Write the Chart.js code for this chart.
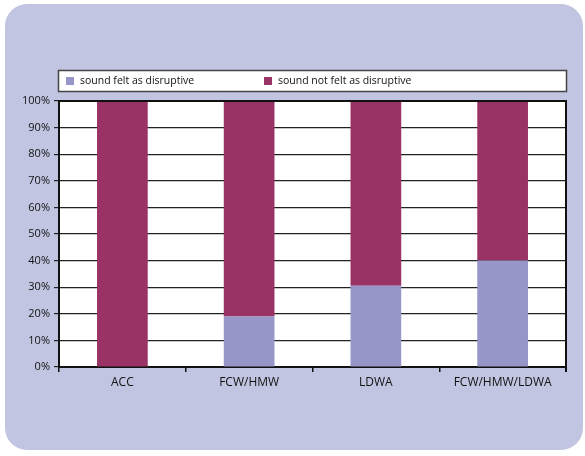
<!DOCTYPE html>
<html>
<head>
<meta charset="utf-8">
<script src="https://cdn.jsdelivr.net/npm/chart.js@4"></script>
<style>
  html, body { margin: 0; padding: 0; background: #fff; }
  #wrap { position: relative; width: 585px; height: 456px; overflow: hidden; }
  #panel {
    position: absolute; left: 5px; top: 4px; width: 578px; height: 446px;
    background: #c2c5e1; border-radius: 22px;
  }
  canvas { position: absolute; left: 0; top: 0; }
</style>
</head>
<body>
<div id="wrap">
  <div id="panel"></div>
  <canvas id="soundChart" width="585" height="456"></canvas>
</div>
<script>
const categories = ['ACC', 'FCW/HMW', 'LDWA', 'FCW/HMW/LDWA'];
const feltDisruptive = [0, 19, 30.5, 40];
const notFeltDisruptive = [100, 81, 69.5, 60];
const seriesNames = ['sound felt as disruptive', 'sound not felt as disruptive'];
const seriesColors = ['#9696c8', '#993366'];

const FONT = '"Open Sans", "Noto Sans", sans-serif';

// white plot background
const plotBg = {
  id: 'plotBg',
  beforeDraw(chart) {
    const a = chart.chartArea;
    chart.ctx.save();
    chart.ctx.fillStyle = '#fff';
    chart.ctx.fillRect(a.left, a.top, a.right - a.left, a.bottom - a.top);
    chart.ctx.restore();
  }
};

// legend in a white box above the plot, drawn by hand
const boxLegend = {
  id: 'boxLegend',
  afterDraw(chart) {
    const c = chart.ctx;
    c.save();
    c.fillStyle = '#fff';
    c.fillRect(58.5, 70.5, 508, 21);
    c.strokeStyle = '#444';
    c.lineWidth = 1.5;
    c.strokeRect(58.5, 70.5, 508, 21);
    const xs = [66, 264];
    c.font = '10.5px ' + FONT;
    c.textBaseline = 'middle';
    chart.data.datasets.forEach((ds, i) => {
      c.fillStyle = ds.backgroundColor;
      c.fillRect(xs[i], 77, 8, 8);
      c.fillStyle = '#111';
      c.fillText(ds.label, xs[i] + 14, 81);
    });
    c.restore();
  }
};

// black frame on top and right of the plot
const plotFrame = {
  id: 'plotFrame',
  afterDatasetsDraw(chart) {
    const a = chart.chartArea;
    const c = chart.ctx;
    c.save();
    c.strokeStyle = '#111';
    c.lineWidth = 2;
    c.beginPath();
    c.moveTo(a.left, a.top);
    c.lineTo(a.right, a.top);
    c.lineTo(a.right, a.bottom + 5);
    c.stroke();
    c.restore();
  }
};

new Chart(document.getElementById('soundChart'), {
  type: 'bar',
  data: {
    labels: categories,
    datasets: [
      { label: seriesNames[0], data: feltDisruptive, backgroundColor: seriesColors[0] },
      { label: seriesNames[1], data: notFeltDisruptive, backgroundColor: seriesColors[1] }
    ]
  },
  options: {
    responsive: false,
    animation: false,
    layout: { padding: { top: 101, right: 19, left: 0, bottom: 0 } },
    datasets: { bar: { barPercentage: 0.4, categoryPercentage: 1 } },
    plugins: { legend: { display: false }, tooltip: { enabled: false } },
    scales: {
      x: {
        stacked: true,
        afterFit(s) { s.height = 89; },
        grid: { drawOnChartArea: false, color: '#111', tickLength: 5, lineWidth: 1.5, offset: true },
        border: { color: '#111', width: 2 },
        ticks: { color: '#111', font: { family: FONT, size: 12 }, padding: 3 }
      },
      y: {
        stacked: true,
        min: 0,
        max: 100,
        afterFit(s) { s.width = 59; },
        grid: { color: '#222', lineWidth: 1.2, tickLength: 5 },
        border: { color: '#111', width: 2 },
        ticks: {
          stepSize: 10,
          color: '#111',
          padding: 4,
          font: { family: FONT, size: 11 },
          callback: v => v + '%'
        }
      }
    }
  },
  plugins: [plotBg, boxLegend, plotFrame]
});
</script>
</body>
</html>
